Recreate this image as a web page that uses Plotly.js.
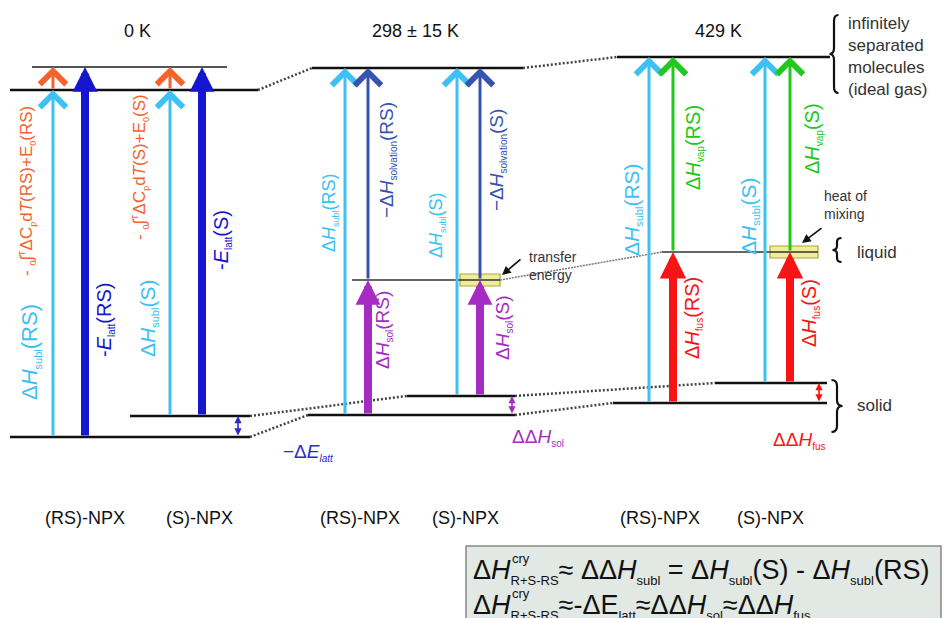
<!DOCTYPE html>
<html><head><meta charset="utf-8">
<script src="https://cdn.plot.ly/plotly-3.0.1.min.js"></script>
<style>html,body{margin:0;padding:0;background:#fff;overflow:hidden}</style>
</head><body><div id="chart" style="width:944px;height:618px"></div>
<script>
// ---------------- DATA ----------------
const panelTitles = ['0 K', '298 ± 15 K', '429 K'];
const sampleLabels = ['(RS)-NPX', '(S)-NPX', '(RS)-NPX', '(S)-NPX', '(RS)-NPX', '(S)-NPX'];

// enthalpy levels (schematic units; larger = higher enthalpy)
const levelIds    = ['gasVib0', 'gas0', 'solS0', 'solRS0', 'gas298', 'soln298', 'solS298', 'solRS298', 'gas429', 'liq429', 'solS429', 'solRS429'];
const levelEnergy = [551, 528, 202, 181, 550, 338, 222, 203, 561, 366, 235, 215];

// transitions between levels
const transFrom = ['solRS0', 'gas0', 'solRS0', 'solS0', 'gas0', 'solS0',
                   'solRS298', 'soln298', 'solRS298', 'solS298', 'soln298', 'solS298',
                   'solRS429', 'liq429', 'solRS429', 'solS429', 'liq429', 'solS429'];
const transTo   = ['gas0', 'gasVib0', 'gasVib0', 'gas0', 'gasVib0', 'gasVib0',
                   'gas298', 'gas298', 'soln298', 'gas298', 'gas298', 'soln298',
                   'gas429', 'gas429', 'liq429', 'gas429', 'gas429', 'liq429'];
// label parts: [prefix, subscript, suffix]
const transLabelMain = ['ΔH', '- ∫ΔC', '-E', 'ΔH', '- ∫ΔC', '-E',
                        'ΔH', '−ΔH', 'ΔH', 'ΔH', '−ΔH', 'ΔH',
                        'ΔH', 'ΔH', 'ΔH', 'ΔH', 'ΔH', 'ΔH'];
const transLabelSub  = ['subl', 'p', 'latt', 'subl', 'p', 'latt',
                        'subl', 'solvation', 'sol', 'subl', 'solvation', 'sol',
                        'subl', 'vap', 'fus', 'subl', 'vap', 'fus'];
const transLabelTail = ['(RS)', 'dT(RS)+E0(RS)', '(RS)', '(S)', 'dT(S)+E0(S)', '(S)',
                        '(RS)', '(RS)', '(RS)', '(S)', '(S)', '(S)',
                        '(RS)', '(RS)', '(RS)', '(S)', '(S)', '(S)'];

// RS vs S differences
const diffFrom = ['solRS0', 'solRS298', 'solRS429'];
const diffTo   = ['solS0', 'solS298', 'solS429'];
const diffMain = ['−ΔE', 'ΔΔH', 'ΔΔH'];
const diffSub  = ['latt', 'sol', 'fus'];

// dotted correlation lines between temperatures
const linkFrom = ['gas0', 'gas298', 'solS0', 'solRS0', 'solS298', 'solRS298', 'soln298'];
const linkTo   = ['gas298', 'gas429', 'solS298', 'solRS298', 'solS429', 'solRS429', 'liq429'];

// highlighted mixing / transfer terms
const boxLevels = ['soln298', 'liq429'];
const boxNotes  = ['transfer<br>energy', 'heat of<br>mixing'];

const stateNames = ['infinitely<br>separated<br>molecules<br>(ideal gas)', 'liquid', 'solid'];

// ---------------- LAYOUT / STYLE ----------------
const levelX0 = [32, 10, 130, 10, 312, 352, 407, 308, 617, 662, 715, 613];
const levelX1 = [227, 258, 250, 250, 523, 500, 515, 515, 830, 818, 827, 827];
const levelColor = ['#555', '#111', '#111', '#111', '#111', '#333', '#111', '#111', '#111', '#333', '#111', '#111'];
const levelWidth = [2, 2.5, 2.5, 2.5, 2.5, 1.5, 2.5, 2.5, 2.5, 1.5, 2.5, 2.5];

const transX = [53, 53, 85, 170, 170, 202, 345, 368, 368, 457, 480, 480, 649, 673, 673, 765, 790, 790];
const transKind = ['sky', 'zpe', 'latt', 'sky', 'zpe', 'latt', 'sky', 'solv', 'sol', 'sky', 'solv', 'sol', 'sky', 'vap', 'fus', 'sky', 'vap', 'fus'];
const transLabX = [30, 27, 105, 148, 140, 222, 330, 387, 383, 437, 497, 503, 632, 694, 693, 749, 813, 810];
const transLabE = [266, 427, 298, 299, 451, 378, 405, 458, 288, 393, 458, 290, 408, 470, 300, 401, 479, 305];
const transLabSize = [22, 17, 20, 21, 17, 20, 18, 19, 19, 18, 19, 19, 21, 20, 20, 21, 20, 20];

const kindStyle = {
  sky:  {color: '#3dc1f4', width: 3, head: 4, size: 1.7},
  zpe:  {color: '#f4632c', width: 3, head: 4, size: 1.7},
  latt: {color: '#1616cf', width: 8, head: 2, size: 0.62},
  solv: {color: '#3454b0', width: 3, head: 4, size: 1.7},
  sol:  {color: '#a42cc4', width: 8, head: 2, size: 0.62},
  vap:  {color: '#20c820', width: 3, head: 4, size: 1.7},
  fus:  {color: '#f81414', width: 8, head: 2, size: 0.66}
};

const diffX = [238, 512, 819];
const diffColor = ['#2a2ad0', '#a42cc4', '#f81414'];
const diffLabX = [308, 538, 799];
const diffLabE = [166, 181, 178];

const titleX = [137, 415, 718];
const titleE = 587;
const sampleX = [85, 199, 360, 465, 660, 770];
const sampleE = 100;

const FONT = 'Liberation Sans, Arial, Helvetica, sans-serif';
const E = id => levelEnergy[levelIds.indexOf(id)];
const L = id => levelIds.indexOf(id);
const sub = (t, px) => `<sub><span style="font-size:${px}px">${t}</span></sub>`;
const ital = s => s.replace(/([HE])$/, '<i>$1</i>');

const traces = [];
const annotations = [];
const shapes = [];

// levels
levelIds.forEach((id, i) => {
  traces.push({x: [levelX0[i], levelX1[i]], y: [levelEnergy[i], levelEnergy[i]], mode: 'lines',
    line: {color: levelColor[i], width: levelWidth[i]}, hoverinfo: 'skip'});
});
// links
linkFrom.forEach((f, i) => {
  const a = L(f), b = L(linkTo[i]);
  const thin = f === 'soln298';
  traces.push({x: [levelX1[a], levelX0[b]], y: [E(f), E(linkTo[i])], mode: 'lines',
    line: {color: thin ? '#777' : '#444', width: thin ? 1.5 : 2.5, dash: thin ? '2px,1px' : '2px,2px'}, hoverinfo: 'skip'});
});

// boxes
const boxX0 = [460, 770], boxX1 = [500, 818];
boxLevels.forEach((id, i) => {
  shapes.push({type: 'rect', xref: 'x', yref: 'y', layer: 'below', x0: boxX0[i], x1: boxX1[i], y0: E(id) - 6, y1: E(id) + 6,
    fillcolor: '#f1ed98', line: {color: '#aea53a', width: 1.2}});
});

// transition arrows
transFrom.forEach((f, i) => {
  const s = kindStyle[transKind[i]];
  annotations.push({x: transX[i], y: E(transTo[i]), ax: transX[i], ay: E(f), xref: 'x', yref: 'y', axref: 'x', ayref: 'y',
    text: '', showarrow: true, arrowhead: s.head, arrowsize: s.size, arrowwidth: s.width, arrowcolor: s.color, standoff: 0});
  const F = transLabSize[i];
  const subPx = Math.round(F * 0.5);
  let text;
  if (transKind[i] === 'zpe') {
    const tail = transLabelTail[i].replace('dT', 'd<i>T</i>').replace('E0', 'E' + sub('0', subPx));
    text = '- ' + sub('0', subPx) + '∫' + `<sup><span style="font-size:${subPx}px">T</span></sup>` + 'ΔC' + sub('p', subPx) + tail;
  } else {
    text = ital(transLabelMain[i]) + sub(transLabelSub[i], subPx) + transLabelTail[i];
  }
  annotations.push({x: transLabX[i], y: transLabE[i], xref: 'x', yref: 'y', text, showarrow: false,
    textangle: -90, font: {family: FONT, size: F, color: s.color}, xanchor: 'center', yanchor: 'middle'});
});

// difference arrows
diffFrom.forEach((f, i) => {
  annotations.push({x: diffX[i], y: E(diffTo[i]), ax: diffX[i], ay: E(f), xref: 'x', yref: 'y', axref: 'x', ayref: 'y',
    text: '', showarrow: true, arrowhead: 2, arrowside: 'end+start', arrowsize: 0.9, arrowwidth: 1.6, arrowcolor: diffColor[i], standoff: 0, startstandoff: 0});
  const subTxt = i === 0 ? '<i>' + diffSub[i] + '</i>' : diffSub[i];
  annotations.push({x: diffLabX[i], y: diffLabE[i], xref: 'x', yref: 'y', text: ital(diffMain[i]) + sub(subTxt, 10), showarrow: false,
    font: {family: FONT, size: 19, color: diffColor[i]}});
});

// box notes
const noteX = [527, 822], noteE = [352, 413];
const noteArrowTail = [[522, 360], [823, 391]], noteArrowHead = [[502, 343], [802, 375]];
boxNotes.forEach((t, i) => {
  annotations.push({x: noteX[i], y: noteE[i], xref: 'x', yref: 'y', text: t, showarrow: false, xanchor: 'left', align: 'left',
    font: {family: FONT, size: 14, color: '#333'}});
  annotations.push({x: noteArrowHead[i][0], y: noteArrowHead[i][1], ax: noteArrowTail[i][0], ay: noteArrowTail[i][1],
    xref: 'x', yref: 'y', axref: 'x', ayref: 'y', text: '', showarrow: true, arrowhead: 2, arrowsize: 1.1, arrowwidth: 1.6, arrowcolor: '#111'});
});

// titles and sample labels
panelTitles.forEach((t, i) => annotations.push({x: titleX[i], y: titleE, xref: 'x', yref: 'y', text: t, showarrow: false,
  font: {family: FONT, size: 18, color: '#111'}}));
sampleLabels.forEach((t, i) => annotations.push({x: sampleX[i], y: sampleE, xref: 'x', yref: 'y', text: t, showarrow: false,
  font: {family: FONT, size: 18, color: '#111'}}));

// state braces and names
function brace(xc, yT, yB, w, dir) {
  const ym = (yT + yB) / 2, r = Math.min(6, (yT - yB) / 6);
  const xo = xc + dir * w / 2, xt = xc - dir * w / 2;
  return `M${xo},${yT} Q${xc},${yT} ${xc},${yT - r} L${xc},${ym + r} Q${xc},${ym} ${xt},${ym} Q${xc},${ym} ${xc},${ym - r} L${xc},${yB + r} Q${xc},${yB} ${xo},${yB}`;
}
const braceSpec = [[834, 603, 525, 9, 1], [837, 380, 356, 9, 1], [837, 238, 186, 11, -1]];
braceSpec.forEach(b => shapes.push({type: 'path', xref: 'x', yref: 'y', path: brace(...b), line: {color: '#111', width: 2.2}}));
const stateX = [846, 855, 855], stateE = [562, 366, 213];
stateNames.forEach((t, i) => annotations.push({x: stateX[i], y: stateE[i], xref: 'x', yref: 'y', text: t, showarrow: false,
  xanchor: 'left', align: 'left', font: {family: FONT, size: 17, color: '#333'}}));

// equation box
shapes.push({type: 'rect', xref: 'x', yref: 'y', layer: 'below', x0: 466, x1: 941, y0: -10, y1: 72,
  fillcolor: '#e2e8e4', line: {color: '#888', width: 1.5}});
const s13 = t => sub(t, 13);
const eqLines = ['Δ<i>H</i>' + s13('R+S-RS') + '≈ ΔΔ<i>H</i>' + s13('subl') + ' = Δ<i>H</i>' + s13('subl') + '(S) - Δ<i>H</i>' + s13('subl') + '(RS)',
                 'Δ<i>H</i>' + s13('R+S-RS') + '≈-ΔE' + s13('latt') + '≈ΔΔ<i>H</i>' + s13('sol') + '≈ΔΔ<i>H</i>' + s13('fus')];
const eqE = [47, 12];
eqLines.forEach((t, i) => {
  annotations.push({x: 471, y: eqE[i], xref: 'x', yref: 'y', text: t, showarrow: false, xanchor: 'left',
    font: {family: FONT, size: 27, color: '#111'}});
  annotations.push({x: 510, y: eqE[i] + 13, xref: 'x', yref: 'y', text: 'cry', showarrow: false, xanchor: 'left',
    font: {family: FONT, size: 13, color: '#111'}});
});

const layout = {
  width: 944, height: 618, margin: {l: 0, r: 0, t: 0, b: 0},
  paper_bgcolor: '#fff', plot_bgcolor: '#fff', showlegend: false,
  xaxis: {range: [0, 944], visible: false, fixedrange: true},
  yaxis: {range: [0, 618], visible: false, fixedrange: true},
  annotations, shapes
};
Plotly.newPlot('chart', traces, layout, {displayModeBar: false, staticPlot: true});
</script></body></html>
